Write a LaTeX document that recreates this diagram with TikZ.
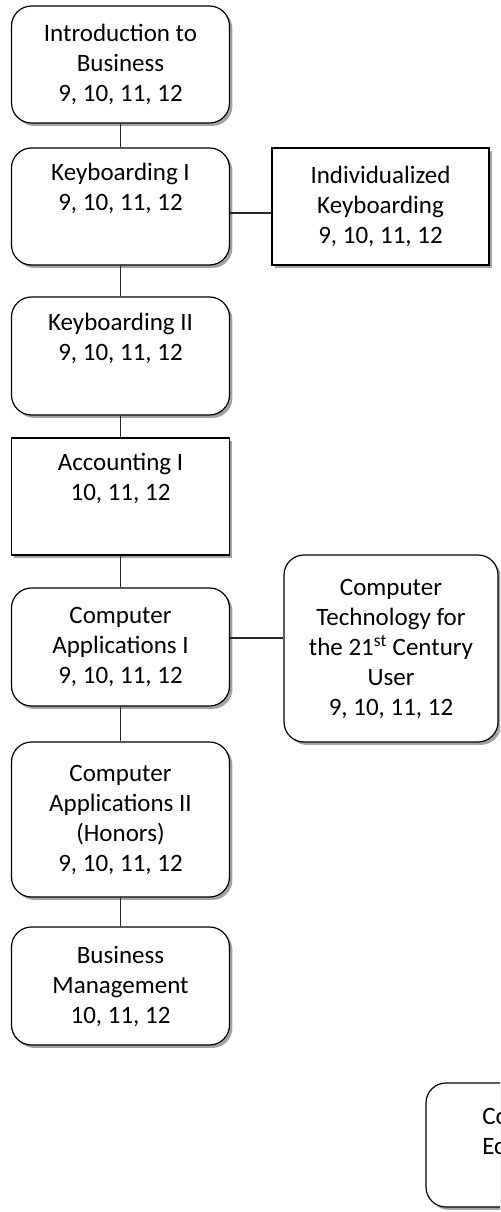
\documentclass[tikz,border=0pt]{standalone}
\usepackage{fontspec}
\setmainfont{Carlito}
\usetikzlibrary{shadows}
\begin{document}
\begin{tikzpicture}[x=0.75pt,y=-0.75pt,
  box/.style={draw=black, line width=0.9pt, fill=white, align=center, inner sep=2pt,
    font=\fontsize{18.75}{22.5}\selectfont,
    drop shadow={shadow xshift=2.2pt, shadow yshift=-2.2pt, fill=black!60, opacity=0.6}},
  rbox/.style={box, rounded corners=15pt},
  lcol/.style={minimum width=163.5pt},
  link/.style={draw=black!85, line width=0.8pt},
  txt/.style={font=\fontsize{18.75}{22.5}\selectfont, inner sep=0pt, align=left}]
\useasboundingbox (0,0) rectangle (500,1212);
\clip (0,0) rectangle (500,1212);

\node[rbox, lcol, minimum height=87.75pt] (b1) at (120.5,64.5) {Introduction to\\Business\\9, 10, 11, 12};
\node[rbox, lcol, minimum height=87.75pt] (b2) at (120.5,206.5) {Keyboarding I\\9, 10, 11, 12\\\strut};
\node[rbox, lcol, minimum height=88.5pt] (b3) at (120.5,356) {Keyboarding II\\9, 10, 11, 12\\\strut};
\node[box, lcol, minimum height=87.75pt] (b4) at (120.5,496.5) {Accounting I\\10, 11, 12\\\strut};
\node[rbox, lcol, minimum height=88.5pt] (b5) at (120.5,647) {Computer\\Applications I\\9, 10, 11, 12};
\node[rbox, lcol, minimum height=116.25pt] (b6) at (120.5,819.5) {Computer\\Applications II\\(Honors)\\9, 10, 11, 12};
\node[rbox, lcol, minimum height=88.5pt] (b7) at (120.5,986) {Business\\Management\\10, 11, 12};

\node[box, minimum width=162.75pt, minimum height=87.75pt] (ik) at (380.5,206.5) {Individualized\\Keyboarding\\9, 10, 11, 12};
\node[rbox, minimum width=160.5pt, minimum height=140.25pt] (ct) at (391,648.5) {Computer\\Technology for\\the 21\textsuperscript{st} Century\\User\\9, 10, 11, 12};

\node[rbox, minimum width=162.75pt, minimum height=93pt] (ce) at (534.5,1145) {};
\node[txt, anchor=west] (cet) at (482,1131) {Co\\Ec};

\draw[link] (b1.south) -- (b2.north);
\draw[link] (b2.south) -- (b3.north);
\draw[link] (b3.south) -- (b4.north);
\draw[link] (b4.south) -- (b5.north);
\draw[link] (b5.south) -- (b6.north);
\draw[link] (b6.south) -- (b7.north);
\coordinate (k1) at ([yshift=-4.9pt]b2.east);
\draw[link] (k1) -- (k1 -| ik.west);
\coordinate (k2) at ([yshift=6.75pt]b5.east);
\draw[link] (k2) -- (k2 -| ct.west);
\end{tikzpicture}
\end{document}
